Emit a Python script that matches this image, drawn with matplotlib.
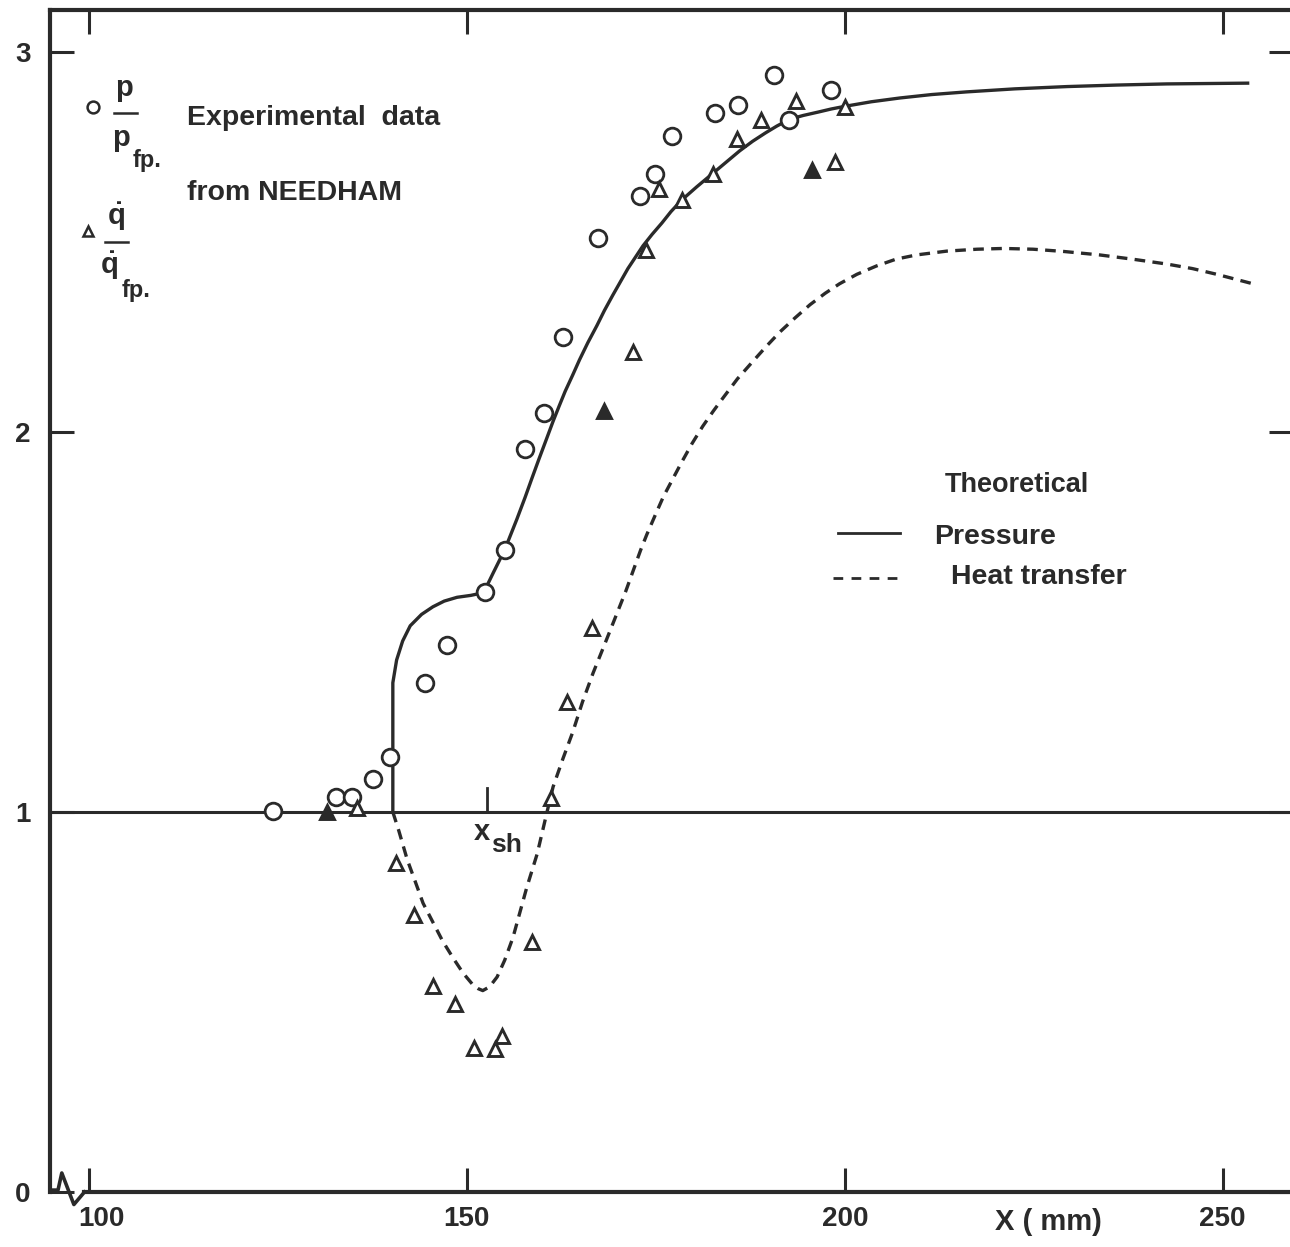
import matplotlib
matplotlib.use("Agg")
import matplotlib.pyplot as plt
from matplotlib.lines import Line2D
from matplotlib.transforms import ScaledTranslation

plt.rcParams['font.family'] = ['Liberation Sans Narrow', 'Liberation Sans', 'DejaVu Sans']
plt.rcParams['font.weight'] = 'bold'
plt.rcParams['mathtext.fontset'] = 'custom'
plt.rcParams['mathtext.rm'] = 'Liberation Sans:bold'
plt.rcParams['mathtext.it'] = 'Liberation Sans:bold'

INK = '#2a2a2a'

# Theoretical pressure ratio p/p_fp along the plate (x in mm)
pres_x = [140.2, 140.2, 140.7, 141.5, 142.5, 144.0, 145.5, 147.0, 148.7, 150.5,
          151.7, 152.4, 153.5, 155.0, 156.6, 157.7, 158.6, 159.5, 160.5, 161.4,
          162.2, 163.0, 164.0, 164.9, 166.0, 167.2, 168.2, 169.3, 170.3, 171.3,
          172.3, 173.3, 174.5, 175.8, 177.0, 178.4, 180.4, 182.5, 184.3, 186.1,
          187.8, 189.5, 191.0, 192.7, 194.5, 196.5, 198.2, 200.0, 203.5, 207.3,
          211.5, 216.1, 222.5, 229.4, 236.0, 242.6, 253.3]
pres_y = [1.00, 1.34, 1.40, 1.45, 1.49, 1.52, 1.54, 1.555, 1.565, 1.57,
          1.575, 1.585, 1.63, 1.69, 1.77, 1.828, 1.878, 1.927, 1.98, 2.028,
          2.068, 2.107, 2.15, 2.19, 2.235, 2.28, 2.32, 2.36, 2.395, 2.43,
          2.46, 2.49, 2.52, 2.55, 2.58, 2.61, 2.645, 2.68, 2.71, 2.74,
          2.765, 2.787, 2.805, 2.823, 2.833, 2.842, 2.85, 2.857, 2.869, 2.879,
          2.888, 2.895, 2.903, 2.909, 2.913, 2.916, 2.918]

# Theoretical heat-transfer ratio q/q_fp
heat_x = [140.2, 141.0, 142.1, 143.2, 144.2, 145.5, 146.8, 148.2, 149.5, 150.8,
          151.5, 152.1, 153.0, 154.0, 155.0, 156.1, 157.0, 157.9, 159.3, 160.6,
          161.4, 162.7, 164.0, 165.3, 166.7, 168.2, 169.8, 171.0, 172.0, 173.0,
          173.8, 175.0, 176.0, 177.2, 178.4, 179.8, 181.2, 182.6, 183.9, 185.8,
          187.8, 189.6, 191.4, 193.4, 195.4, 197.4, 199.3, 201.6, 204.2, 206.8,
          209.5, 213.5, 217.5, 221.0, 224.9, 229.0, 233.7, 238.0, 242.6, 246.0,
          249.2, 254.0]
heat_y = [1.00, 0.95, 0.875, 0.815, 0.76, 0.71, 0.66, 0.615, 0.576, 0.545,
          0.535, 0.53, 0.54, 0.566, 0.61, 0.67, 0.735, 0.80, 0.89, 1.00,
          1.066, 1.14, 1.21, 1.29, 1.366, 1.44, 1.52, 1.58, 1.635, 1.69,
          1.73, 1.785, 1.83, 1.875, 1.92, 1.97, 2.015, 2.055, 2.09, 2.14,
          2.185, 2.225, 2.263, 2.3, 2.335, 2.365, 2.39, 2.415, 2.437, 2.455,
          2.466, 2.476, 2.481, 2.483, 2.481, 2.475, 2.466, 2.455, 2.442, 2.43,
          2.415, 2.39]

# Experimental pressure ratio (Needham)
p_exp_x = [124.3, 132.7, 134.8, 137.6, 139.8, 144.4, 147.4, 152.4, 155.0, 157.7,
           160.2, 162.7, 167.3, 172.9, 174.9, 177.1, 182.8, 185.9, 190.6, 192.6,
           198.2]
p_exp_y = [1.003, 1.04, 1.04, 1.087, 1.145, 1.34, 1.44, 1.58, 1.69, 1.955,
           2.05, 2.25, 2.51, 2.62, 2.68, 2.78, 2.84, 2.86, 2.94, 2.82,
           2.90]

# Experimental heat-transfer ratio (Needham), open symbols
q_exp_x = [135.5, 140.6, 143.0, 145.5, 148.4, 150.9, 153.7, 154.6, 158.6, 161.1,
           163.2, 166.5, 172.0, 173.7, 175.4, 178.4, 182.5, 185.8, 188.9, 193.5,
           198.7, 200.0]
q_exp_y = [1.01, 0.865, 0.73, 0.542, 0.495, 0.379, 0.376, 0.41, 0.658, 1.037,
           1.29, 1.484, 2.21, 2.48, 2.64, 2.61, 2.68, 2.77, 2.82, 2.87,
           2.71, 2.855]
# filled symbols
q_fill_x = [131.5, 168.1, 195.6]
q_fill_y = [1.0, 2.055, 2.69]

x_sh = 152.6
x_ticks = [100, 150, 200, 250]
y_ticks = [0, 1, 2, 3]

W, H = 1290, 1247
fig = plt.figure(figsize=(W / 100, H / 100), dpi=100)
fig.patch.set_facecolor('white')


def P(px, py):
    return px / W, 1 - py / H


ax = fig.add_axes([50 / W, 1 - 1192 / H, 1243 / W, 1182 / H])
ax.set_xlim(94.84, 259.3)
ax.set_ylim(0, 3.1105)

for side in ['left', 'right', 'top', 'bottom']:
    ax.spines[side].set_linewidth(3.0)
    ax.spines[side].set_color(INK)
ax.spines['bottom'].set_bounds(99.4, 259.3)

ax.set_xticks(x_ticks)
ax.set_yticks(y_ticks)
ax.set_xticklabels(['100', '150', '200', '250'])
ax.tick_params(axis='both', direction='in', length=17, width=2.2, color=INK,
               labelsize=20, labelcolor=INK, top=True, right=True)
ax.tick_params(axis='x', pad=10)
ax.tick_params(axis='y', pad=14)
# the first x label sits just right of the axis break
first = ax.get_xticklabels()[0]
first.set_transform(first.get_transform() + ScaledTranslation(0.12, 0, fig.dpi_scale_trans))

# axis break symbol at the origin
brk_x = [94.84, 95.9, 96.4, 98.0, 99.4]
brk_y = [0.005, 0.005, 0.05, -0.033, 0.0]
ax.plot(brk_x, brk_y, color=INK, lw=2.6, clip_on=False, solid_joinstyle='round')

# reference level p/p_fp = 1
ax.axhline(1.0, color=INK, lw=2.2)
ax.plot([x_sh, x_sh], [1.0, 1.063], color=INK, lw=2.0)

ax.plot(pres_x, pres_y, color=INK, lw=2.4, solid_joinstyle='round')
ax.plot(heat_x, heat_y, color=INK, lw=2.4, linestyle=(0, (3.2, 2.2)))

ax.plot(p_exp_x, p_exp_y, linestyle='none', marker='o', markersize=12,
        markerfacecolor='white', markeredgecolor=INK, markeredgewidth=2.0, zorder=5)
ax.plot(q_exp_x, q_exp_y, linestyle='none', marker='^', markersize=9.5,
        markerfacecolor='white', markeredgecolor=INK, markeredgewidth=2.1, zorder=6)
ax.plot(q_fill_x, q_fill_y, linestyle='none', marker='^', markersize=9.5,
        markerfacecolor=INK, markeredgecolor=INK, markeredgewidth=2.1, zorder=6)

# x_sh annotation
fig.text(*P(482, 832), 'x', fontsize=21, color=INK, ha='center', va='center')
fig.text(*P(506, 845), 'sh', fontsize=19, color=INK, ha='center', va='center')

fig.text(*P(1048, 1222), 'X ( mm)', fontsize=21, color=INK, ha='center', va='center')

# symbol key
fig.add_artist(Line2D([P(93, 107)[0]], [P(93, 107)[1]], marker='o', markersize=8.5,
                      markerfacecolor='white', markeredgecolor=INK, markeredgewidth=1.8))
fig.text(*P(124, 88), 'p', fontsize=21, color=INK, ha='center', va='center')
fig.add_artist(Line2D([P(114, 0)[0], P(137, 0)[0]], [P(0, 113)[1]] * 2, color=INK, lw=1.8))
fig.text(*P(121, 138), 'p', fontsize=21, color=INK, ha='center', va='center')
fig.text(*P(147, 160), 'fp.', fontsize=17, color=INK, ha='center', va='center')

fig.add_artist(Line2D([P(88, 231)[0]], [P(88, 231)[1]], marker='^', markersize=7,
                      markerfacecolor='white', markeredgecolor=INK, markeredgewidth=1.8))
fig.text(*P(116, 217), r'$\dot{\mathrm{q}}$', fontsize=21, color=INK, ha='center', va='center')
fig.add_artist(Line2D([P(105, 0)[0], P(128, 0)[0]], [P(0, 242)[1]] * 2, color=INK, lw=1.8))
fig.text(*P(109, 266), r'$\dot{\mathrm{q}}$', fontsize=21, color=INK, ha='center', va='center')
fig.text(*P(136, 290), 'fp.', fontsize=17, color=INK, ha='center', va='center')

fig.text(*P(187, 118), 'Experimental  data', fontsize=20.5, color=INK, ha='left', va='center')
fig.text(*P(187, 193), 'from NEEDHAM', fontsize=20.5, color=INK, ha='left', va='center')

# theory key
fig.text(*P(945, 485), 'Theoretical', fontsize=19.5, color=INK, ha='left', va='center')
fig.add_artist(Line2D([P(838, 0)[0], P(900, 0)[0]], [P(0, 533)[1]] * 2, color=INK, lw=2.0))
fig.text(*P(934, 537), 'Pressure', fontsize=20.5, color=INK, ha='left', va='center')
fig.add_artist(Line2D([P(833, 0)[0], P(903, 0)[0]], [P(0, 578)[1]] * 2, color=INK, lw=2.0,
                      linestyle=(0, (3.5, 3.0))))
fig.text(*P(951, 577), 'Heat transfer', fontsize=20.5, color=INK, ha='left', va='center')

fig.savefig('out.png', dpi=100, facecolor='white')
